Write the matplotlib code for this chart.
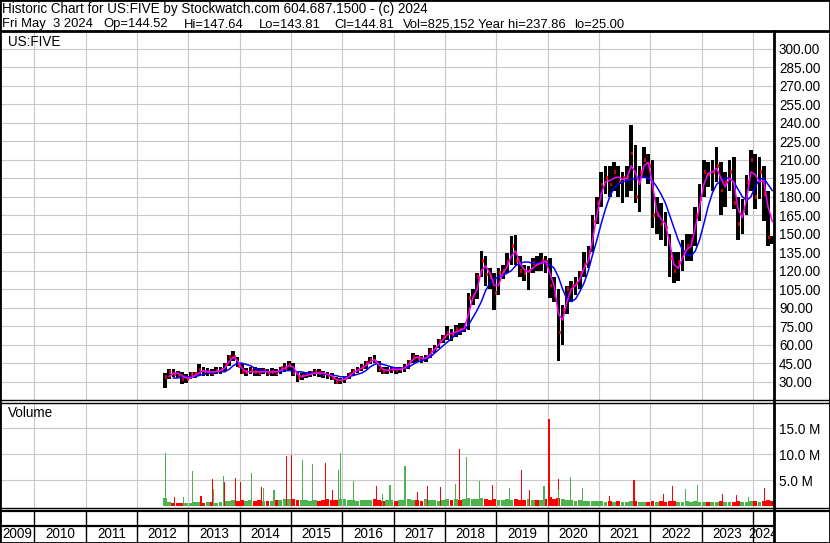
import matplotlib
matplotlib.use("Agg")
import matplotlib.pyplot as plt
from matplotlib.lines import Line2D
from matplotlib.patches import Rectangle
import numpy as np
import pandas as pd

plt.rcParams['font.family'] = ['Liberation Sans', 'DejaVu Sans']
FS = 9.75
plt.rcParams['font.size'] = FS

W, H = 830, 543

# ===================================================
# data (monthly, Jul 2012 .. May 2024)
# ===================================================
first_month = "2012-07"

high = [37, 40, 40, 39, 38, 36,
        38, 38, 44, 42, 41, 40, 42, 42, 45, 52, 55, 50,
        44, 41, 42, 42, 41, 41, 40, 41, 40, 42, 45, 47,
        45, 38, 37, 38, 39, 40, 40, 39, 38, 37, 34, 33,
        35, 37, 40, 42, 44, 47, 50, 52, 47, 42, 42, 42,
        42, 42, 44, 48, 53, 52, 51, 52, 57, 60, 65, 68,
        75, 73, 76, 78, 78, 102, 105, 118, 136, 132, 122, 118,
        122, 125, 134, 148, 149, 132, 125, 124, 130, 132, 134, 132,
        130, 115, 105, 92, 108, 112, 115, 120, 135, 140, 165, 180,
        200, 205, 205, 208, 205, 200, 205, 238, 222, 205, 220, 215,
        210, 180, 175, 168, 150, 135, 135, 145, 150, 150, 172, 190,
        210, 208, 210, 220, 208, 200, 210, 212, 180, 178, 198, 218,
        215, 212, 205, 185, 148]

low = [25, 32, 34, 33, 28, 29,
       32, 33, 35, 35, 35, 35, 36, 36, 39, 43, 47, 42,
       36, 35, 36, 35, 35, 36, 35, 35, 35, 36, 38, 39,
       35, 30, 31, 33, 34, 35, 34, 33, 32, 31, 28, 28,
       29, 32, 35, 37, 39, 40, 44, 45, 38, 36, 36, 37,
       36, 37, 38, 40, 45, 46, 45, 46, 49, 53, 57, 61,
       64, 63, 66, 68, 70, 72, 92, 97, 115, 108, 105, 88,
       100, 113, 118, 125, 125, 115, 112, 104, 118, 120, 120, 118,
       98, 95, 47, 60, 85, 95, 100, 105, 115, 122, 135, 158,
       172, 182, 180, 185, 180, 175, 180, 185, 175, 168, 195, 190,
       155, 150, 145, 140, 115, 110, 112, 120, 128, 128, 140, 160,
       180, 188, 185, 192, 165, 172, 185, 170, 145, 150, 165, 185,
       170, 178, 160, 140, 142]

close = [34, 38, 36, 35, 32, 32,
         36, 36, 40, 37, 38, 37, 39, 40, 44, 50, 50, 43,
         38, 38, 39, 38, 37, 39, 37, 38, 37, 41, 41, 44,
         37, 33, 35, 36, 37, 38, 37, 36, 35, 33, 30, 31,
         33, 36, 39, 40, 42, 45, 48, 46, 40, 38, 39, 40,
         39, 40, 42, 46, 50, 49, 48, 50, 55, 57, 63, 66,
         70, 68, 73, 72, 74, 98, 100, 115, 128, 117, 115, 102,
         118, 120, 127, 140, 128, 120, 118, 120, 126, 125, 128, 127,
         108, 100, 70, 88, 105, 108, 110, 118, 125, 135, 160, 175,
         190, 195, 190, 200, 192, 195, 195, 215, 180, 200, 210, 205,
         165, 165, 158, 155, 130, 120, 127, 135, 140, 145, 165, 178,
         200, 198, 200, 205, 185, 192, 200, 175, 158, 168, 192, 210,
         180, 200, 182, 147, 145]

# magenta (short) moving average
ma_fast = [np.nan, 34, 37, 37, 35, 33,
           33, 35, 37, 39, 38, 38, 38, 39, 41, 46, 50, 47,
           41, 38, 38, 38, 38, 38, 38, 38, 38, 39, 41, 43,
           42, 36, 34, 35, 36, 37, 37, 37, 36, 35, 32, 31,
           32, 34, 37, 39, 41, 43, 46, 48, 44, 40, 39, 40,
           40, 40, 41, 44, 48, 50, 49, 49, 52, 56, 60, 64,
           68, 69, 70, 72, 73, 85, 98, 105, 120, 124, 118, 108,
           108, 118, 123, 132, 136, 126, 121, 119, 122, 125, 126, 128,
           118, 108, 85, 80, 95, 105, 108, 113, 122, 128, 145, 165,
           182, 192, 193, 195, 196, 194, 195, 205, 200, 190, 205, 208,
           190, 168, 162, 158, 143, 125, 122, 130, 137, 140, 155, 172,
           190, 199, 200, 203, 195, 188, 195, 192, 170, 163, 178, 200,
           198, 192, 193, 172, 160]

# blue (long) moving average
ma_slow = [np.nan, np.nan, 33, 33, 34, 34,
           34, 34, 35, 36, 37, 37, 38, 38, 38, 40, 43, 45,
           45, 44, 43, 41, 40, 39, 38, 38, 38, 38, 39, 39,
           39, 38, 38, 37, 37, 37, 37, 36, 36, 35, 35, 34,
           34, 34, 35, 36, 37, 39, 42, 44, 45, 44, 43, 42,
           41, 41, 41, 42, 44, 46, 47, 48, 50, 53, 56, 59,
           62, 65, 68, 70, 72, 76, 82, 88, 95, 104, 110, 113,
           115, 116, 118, 120, 124, 126, 127, 127, 126, 126, 127, 126,
           125, 122, 115, 105, 97, 95, 97, 103, 110, 120, 133, 145,
           158, 170, 180, 187, 190, 192, 193, 194, 195, 196, 196, 195,
           193, 188, 182, 175, 165, 155, 145, 137, 133, 132, 136, 145,
           158, 172, 183, 190, 193, 195, 195, 192, 186, 180, 177, 180,
           188, 194, 195, 190, 185]

# typical daily volume per month (millions)
vol_base = [1.5, 0.8, 0.6, 0.5, 0.6, 0.5,
            0.6, 0.8, 0.7, 0.6, 0.8, 0.7, 0.6, 0.7, 0.9, 1.0, 1.1, 1.0,
            1.2, 1.0, 1.1, 0.9, 1.2, 1.0, 0.9, 1.0, 1.1, 1.2, 1.3, 1.4,
            1.3, 1.2, 1.1, 1.2, 1.0, 1.1, 1.0, 1.2, 1.3, 1.1, 1.2, 1.4,
            1.3, 1.2, 1.1, 1.0, 1.2, 1.1, 1.2, 1.3, 1.1, 1.0, 1.2, 1.1,
            1.0, 1.1, 1.2, 1.3, 1.2, 1.1, 1.0, 1.3, 1.2, 1.1, 1.0, 1.2,
            1.3, 1.2, 1.4, 1.2, 1.3, 1.6, 1.3, 1.4, 1.5, 1.3, 1.2, 1.4,
            1.2, 1.1, 1.3, 1.2, 1.4, 1.2, 1.1, 1.3, 1.2, 1.1, 1.2, 1.3,
            1.8, 1.4, 1.6, 1.3, 1.2, 1.1, 1.0, 1.1, 1.0, 0.9, 1.0, 0.9,
            0.9, 0.8, 0.9, 0.8, 0.9, 0.8, 0.7, 0.9, 0.9, 0.8, 0.8, 0.7,
            0.9, 0.8, 0.9, 0.8, 1.0, 0.9, 0.8, 0.8, 0.9, 0.8, 0.9, 0.8,
            0.8, 0.7, 0.8, 0.8, 0.9, 0.8, 0.7, 0.8, 0.9, 0.8, 0.8, 0.9,
            0.9, 0.8, 1.0, 1.1, 1.0]

# high-volume days (millions), "g" = up day, "r" = down day
spike_dates = ["2012-07-19", "2012-09-25", "2012-11-28", "2013-02-01", "2013-04-01",
               "2013-06-23", "2013-06-26", "2013-09-10", "2013-09-15", "2013-12-02",
               "2014-01-09", "2014-03-25", "2014-06-08", "2014-06-18", "2014-09-02",
               "2014-11-28", "2015-01-05", "2015-03-25", "2015-06-01", "2015-09-03",
               "2015-10-22", "2015-12-05", "2015-12-17", "2016-03-20", "2016-08-30",
               "2016-10-14", "2016-12-05", "2017-03-22", "2017-06-22", "2017-08-30",
               "2017-11-28", "2018-03-17", "2018-04-14", "2018-06-01", "2018-09-03",
               "2018-12-03", "2019-04-02", "2019-06-27", "2019-08-23", "2019-12-06",
               "2020-01-10", "2020-03-17", "2020-03-19", "2020-06-09", "2020-09-03",
               "2021-03-17", "2021-09-07", "2022-04-02", "2022-06-09", "2022-09-10",
               "2022-12-03", "2023-05-28", "2023-09-08", "2023-12-03", "2024-03-20"]
spike_vols = [10.1, 1.7, 1.7, 6.7, 1.9,
              5.2, 3.3, 5.8, 4.6, 5.3,
              4.6, 6.3, 3.7, 3.4, 3.1,
              9.6, 9.8, 8.8, 8.1, 8.2,
              3.1, 6.9, 10.1, 4.8, 3.8,
              2.4, 4.0, 7.7, 2.6, 3.8,
              3.7, 4.3, 11.0, 9.5, 4.8,
              4.0, 3.4, 7.0, 3.1, 3.9,
              16.7, 5.2, 3.1, 5.6, 3.4,
              2.0, 5.0, 2.4, 3.8, 3.3,
              4.0, 2.3, 2.2, 1.8, 3.5]
spike_dirs = ["g", "r", "g", "g", "r",
              "r", "g", "g", "r", "r",
              "r", "g", "r", "g", "g",
              "r", "r", "g", "g", "r",
              "r", "g", "g", "g", "r",
              "g", "g", "g", "r", "r",
              "r", "g", "r", "g", "g",
              "r", "g", "r", "r", "g",
              "r", "r", "g", "g", "g",
              "r", "r", "r", "r", "g",
              "g", "r", "r", "g", "r"]

price_ticks = list(range(30, 301, 15))
vol_ticks = [5, 10, 15]
years = list(range(2009, 2025))

header1 = "Historic Chart for US:FIVE by Stockwatch.com 604.687.1500 - (c) 2024"
header2 = ["Fri May  3 2024", "Op=144.52", "Hi=147.64", "Lo=143.81",
           "Cl=144.81", "Vol=825,152", "Year hi=237.86", "lo=25.00"]
header2_px = [2, 103, 184, 259, 334, 403, 478, 574]

# ===================================================
# pixel <-> data mapping of the reference layout
# ===================================================
def yr(px):
    return 2010 + (px - 34.4) / 51.33

def price_at(py):
    return 30 + (381.7 - py) / 1.2333

def vol_at(py):
    return (506 - py) * 5 / 26

def rect(x0, y0, x1, y1):
    return [x0 / W, 1 - y1 / H, (x1 - x0) / W, (y1 - y0) / H]

def fy(py):
    return 1 - py / H

months = pd.period_range(first_month, periods=len(close), freq="M")
mx = np.asarray(months.year + (months.month - 0.5) / 12, dtype=float)
sd = pd.to_datetime(spike_dates)
sx = np.asarray(sd.year + (sd.dayofyear - 1) / 365.25, dtype=float)

GRID = "#c8c8c8"
GREEN = "#4db34d"
X0, X1 = 1, 774

fig = plt.figure(figsize=(W / 100, H / 100), dpi=100)
fig.patch.set_facecolor("white")

# ---------------- price panel ----------------
ax_p = fig.add_axes(rect(X0, 32, X1, 400))
ax_p.set_xlim(yr(X0), yr(X1))
ax_p.set_ylim(price_at(400), price_at(32))
ax_p.set_xticks(range(2010, 2025))
ax_p.set_yticks(price_ticks)
ax_p.grid(True, color=GRID, lw=0.8)
ax_p.set_axisbelow(True)
ax_p.tick_params(axis="x", length=0, labelbottom=False)
ax_p.tick_params(axis="y", left=False, right=False, labelleft=False,
                 labelright=True, length=0, pad=3.6, labelsize=FS)
ax_p.yaxis.set_major_formatter("{x:.2f}")
for s in ax_p.spines.values():
    s.set_visible(False)

hi = np.array(high, float)
lo = np.array(low, float)
cl = np.array(close, float)
ax_p.bar(mx, hi - lo, bottom=lo, width=1 / 12 * 0.85, color="black", zorder=3)
ax_p.vlines(mx + 0.025, cl - 1.5, cl + 1.5, color="red", lw=1.2, zorder=4)
ax_p.plot(mx, ma_slow, color="#0000ff", lw=1.1, zorder=5)
ax_p.plot(mx, ma_fast, color="#ff00ff", lw=1.1, zorder=6)

# ---------------- volume panel ----------------
ax_v = fig.add_axes(rect(X0, 403, X1, 508))
ax_v.set_xlim(yr(X0), yr(X1))
ax_v.set_ylim(vol_at(508), vol_at(403))
ax_v.set_xticks(range(2010, 2025))
ax_v.set_yticks(vol_ticks)
ax_v.set_yticklabels([f"{v:.1f} M" for v in vol_ticks])
ax_v.grid(True, color=GRID, lw=0.8)
ax_v.set_axisbelow(True)
ax_v.tick_params(axis="x", length=0, labelbottom=False)
ax_v.tick_params(axis="y", left=False, right=False, labelleft=False,
                 labelright=True, length=0, pad=3.6, labelsize=FS)
for s in ax_v.spines.values():
    s.set_visible(False)

prev = np.concatenate([[cl[0]], cl[:-1]])
base_cols = [GREEN if c >= p else "red" for c, p in zip(cl, prev)]
ax_v.bar(mx, vol_base, width=1 / 12 * 0.9, color=base_cols, zorder=3)
spike_cols = [GREEN if d == "g" else "red" for d in spike_dirs]
ax_v.bar(sx, spike_vols, width=0.022, color=spike_cols, zorder=4)

# ---------------- time axis ----------------
ax_t = fig.add_axes(rect(X0, 510, X1, 542))
ax_t.set_xlim(yr(X0), yr(X1))
ax_t.set_ylim(0, 1)
ax_t.axis("off")
ax_t.vlines(range(2010, 2025), 0, 1, color="black", lw=1.0)
lo_x, hi_x = yr(X0), yr(X1)
for y in years:
    a, b = max(y, lo_x), min(y + 1, hi_x)
    ax_t.text((a + b) / 2, 0.24, str(y), ha="center", va="center",
              fontsize=FS, clip_on=True)

# ---------------- texts and frame ----------------
fig.text(2 / W, fy(13), header1, fontsize=FS, va="baseline")
for s, px in zip(header2, header2_px):
    fig.text(px / W, fy(27.5), s, fontsize=9.4, va="baseline")
fig.text(8 / W, fy(42), "US:FIVE", fontsize=FS, va="center")
fig.text(8 / W, fy(413), "Volume", fontsize=FS, va="center")

def hline(py, x0=0, x1=W, lw=1.5):
    fig.add_artist(Line2D([x0 / W, x1 / W], [fy(py), fy(py)],
                          transform=fig.transFigure, color="black", lw=lw))

def vline(px, y0, y1, lw=1.5):
    fig.add_artist(Line2D([px / W, px / W], [fy(y0), fy(y1)],
                          transform=fig.transFigure, color="black", lw=lw))

hline(31, lw=2.0)
hline(400, lw=1.0)
hline(402.5, lw=1.0)
hline(508, lw=1.0)
hline(510.5, lw=1.6)
hline(526, x1=774, lw=1.6)
vline(774, 31, 543, lw=2.0)
fig.add_artist(Rectangle((0, 0), 1, 1, transform=fig.transFigure,
                         fill=False, ec="black", lw=2.0))

fig.savefig("out.png", dpi=100)
